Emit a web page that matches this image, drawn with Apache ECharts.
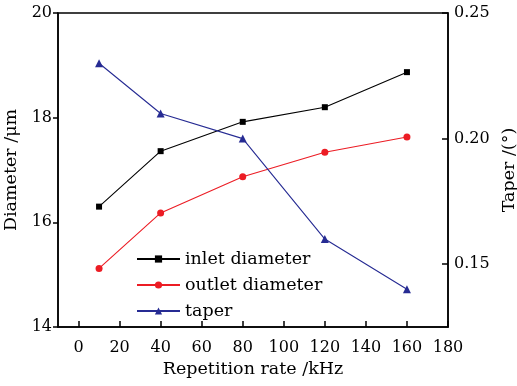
<!DOCTYPE html>
<html lang="en">
<head>
    <meta charset="UTF-8">
    <title>Diameter and taper vs repetition rate</title>
    <script type="text/javascript" src="https://cdn.jsdelivr.net/npm/echarts@6/dist/echarts.min.js"></script>
    <style>
        html, body { margin: 0; padding: 0; background: #fff; }
    </style>
</head>
<body>
<div id="main" style="width:517px;height:386px;"></div>
<script type="text/javascript">
    // data
    var rates = [10, 40, 80, 120, 160];
    var inletDiameter = [16.30, 17.36, 17.92, 18.20, 18.87];
    var outletDiameter = [15.12, 16.18, 16.87, 17.34, 17.63];
    var taper = [0.23, 0.21, 0.20, 0.16, 0.14];

    var xTicks = [0, 20, 40, 60, 80, 100, 120, 140, 160, 180];
    var taperTicks = [0.15, 0.20, 0.25];

    function pairs(xs, ys) {
        var out = [];
        for (var i = 0; i < xs.length; i++) {
            out.push([xs[i], ys[i]]);
        }
        return out;
    }

    var font = 'DejaVu Serif';
    var nameTxt = { color: '#000', fontFamily: font, fontSize: 17.5 };
    var axisLine = { show: true, onZero: false, lineStyle: { color: '#000', width: 1.5 } };
    var tickLine = { color: '#000', width: 1.5 };

    var myChart = echarts.init(document.getElementById('main'));
    var option = {
        animation: false,
        textStyle: { fontFamily: font, color: '#000' },
        grid: {
            left: 58, right: 69, top: 13, bottom: 59,
            outerBoundsMode: 'none',
            containLabel: false,
            show: true, borderColor: '#000', borderWidth: 1.5
        },
        legend: {
            orient: 'vertical',
            left: 136,
            top: 250,
            padding: 0,
            itemWidth: 43,
            itemHeight: 9,
            itemGap: 8,
            textStyle: { color: '#000', fontFamily: font, fontSize: 17.5, lineHeight: 17 },
            data: ['inlet diameter', 'outlet diameter', 'taper']
        },
        xAxis: {
            type: 'value',
            min: -10,
            max: 180,
            name: 'Repetition rate /kHz',
            nameLocation: 'middle',
            nameGap: 31,
            nameTextStyle: nameTxt,
            axisLine: axisLine,
            axisTick: { show: true, inside: true, length: 6, customValues: xTicks, lineStyle: tickLine },
            axisLabel: { customValues: xTicks, color: '#000', fontFamily: font, fontSize: 16, margin: 13 },
            splitLine: { show: false }
        },
        yAxis: [
            {
                type: 'value',
                min: 14,
                max: 20,
                interval: 2,
                name: 'Diameter /μm',
                nameLocation: 'middle',
                nameGap: 30,
                nameTextStyle: nameTxt,
                axisLine: axisLine,
                axisTick: { show: true, inside: false, length: 5, lineStyle: tickLine },
                axisLabel: { color: '#000', fontFamily: font, fontSize: 16, margin: 6 },
                splitLine: { show: false }
            },
            {
                type: 'value',
                position: 'right',
                min: 0.125,
                max: 0.25,
                name: 'Taper /(°)',
                nameLocation: 'middle',
                nameRotate: 90,
                nameGap: 52,
                nameTextStyle: nameTxt,
                axisLine: axisLine,
                axisTick: { show: true, inside: true, length: 6, customValues: taperTicks, lineStyle: tickLine },
                axisLabel: {
                    customValues: taperTicks,
                    color: '#000', fontFamily: font, fontSize: 16, margin: 6,
                    formatter: function (v) { return v.toFixed(2); }
                },
                splitLine: { show: false }
            }
        ],
        series: [
            {
                name: 'inlet diameter',
                type: 'line',
                yAxisIndex: 0,
                data: pairs(rates, inletDiameter),
                symbol: 'rect',
                symbolSize: 6,
                itemStyle: { color: '#000' },
                lineStyle: { color: '#000', width: 1.1 }
            },
            {
                name: 'outlet diameter',
                type: 'line',
                yAxisIndex: 0,
                data: pairs(rates, outletDiameter),
                symbol: 'circle',
                symbolSize: 7,
                itemStyle: { color: '#ec1c24' },
                lineStyle: { color: '#ec1c24', width: 1.1 }
            },
            {
                name: 'taper',
                type: 'line',
                yAxisIndex: 1,
                data: pairs(rates, taper),
                symbol: 'triangle',
                symbolSize: 8,
                itemStyle: { color: '#262b93' },
                lineStyle: { color: '#262b93', width: 1.1 }
            }
        ]
    };
    myChart.setOption(option);
</script>
</body>
</html>
